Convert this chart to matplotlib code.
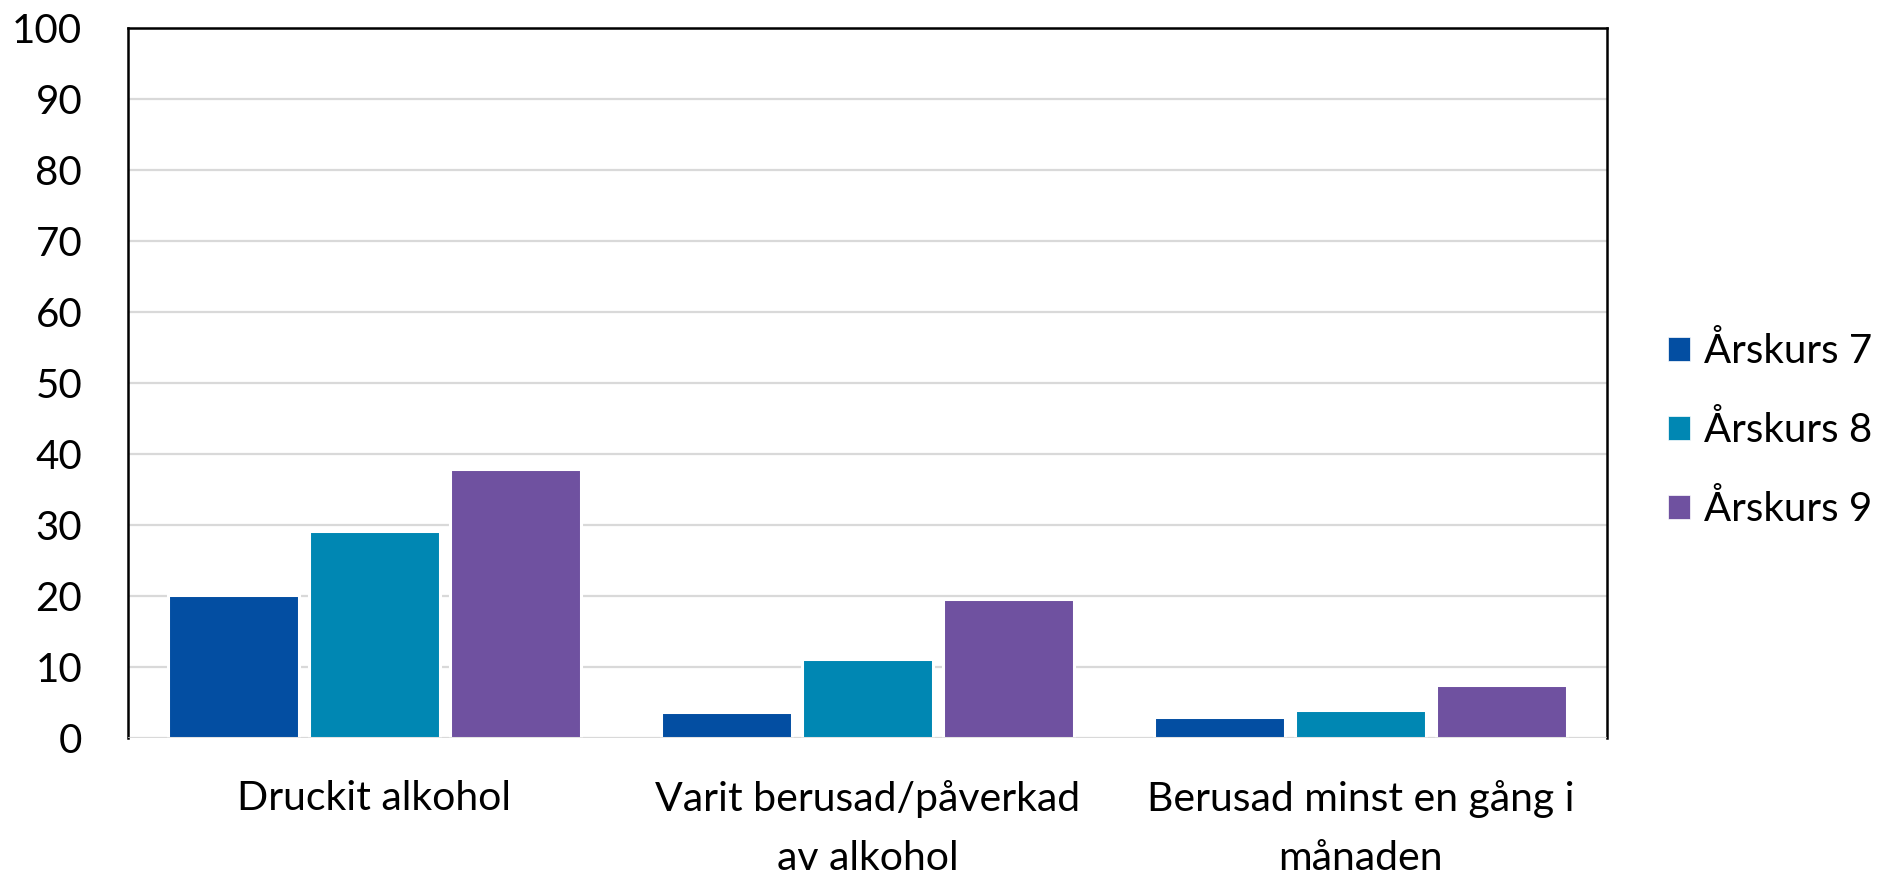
import numpy as np
import matplotlib.pyplot as plt
from matplotlib.patches import Patch

# Data
categories = ['Druckit alkohol', 'Varit berusad/påverkad\nav alkohol', 'Berusad minst en gång i\nmånaden']
series_names = ['Årskurs 7', 'Årskurs 8', 'Årskurs 9']
ak7 = [20.2, 3.7, 3.0]
ak8 = [29.1, 11.1, 4.0]
ak9 = [37.9, 19.6, 7.5]
colors = ['#034EA2', '#0087B3', '#6F51A0']
yticks = list(range(0, 101, 10))

plt.rcParams['font.family'] = ['Lato', 'DejaVu Sans']

fig = plt.figure(figsize=(18.9, 8.76), dpi=100)
ax = fig.add_axes([128 / 1890, 1 - 738 / 876, 1479 / 1890, 710 / 876])

x = np.arange(len(categories))
step = 141 / 493
width = 131 / 493
for i, (vals, c) in enumerate(zip([ak7, ak8, ak9], colors)):
    ax.bar(x + (i - 1) * step, vals, width, color=c, edgecolor='white',
           linewidth=2.2, zorder=3)

ax.set_xlim(-0.5, 2.5)
ax.set_ylim(0, 100)
ax.set_yticks(yticks)
ax.set_xticks(x)
ax.set_xticklabels(categories, fontsize=29.5, linespacing=1.75)
ax.tick_params(axis='y', length=0, pad=33, labelsize=29)
ax.tick_params(axis='x', length=0, pad=30)
ax.yaxis.grid(True, color='#D9D9D9', linewidth=1.6, zorder=0)
ax.set_axisbelow(True)
ax.axhline(0, color='#D9D9D9', linewidth=1.8, zorder=4)

for side in ['left', 'top', 'right']:
    ax.spines[side].set_color('black')
    ax.spines[side].set_linewidth(1.8)
ax.spines['bottom'].set_visible(False)

handles = [Patch(facecolor=c, edgecolor='white', linewidth=0.5) for c in colors]
fig.legend(handles, series_names, loc='center left', bbox_to_anchor=(1668 / 1890, 1 - 430 / 876),
           frameon=False, fontsize=29, handlelength=0.55, handleheight=0.55,
           handletextpad=0.35, labelspacing=1.02, borderaxespad=0, borderpad=0)

fig.savefig('out.png', dpi=100)
